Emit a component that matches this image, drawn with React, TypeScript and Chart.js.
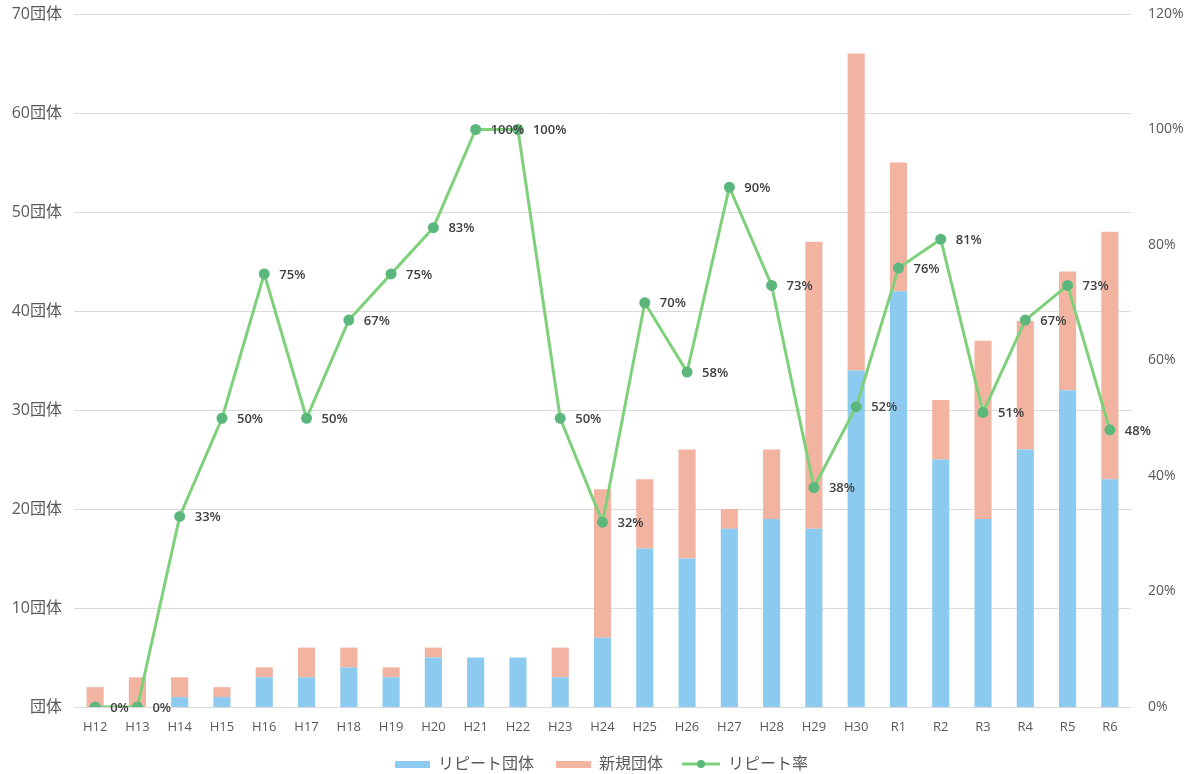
import React, { useEffect, useRef } from "react";
import { Chart, registerables } from "chart.js";

Chart.register(...registerables);

const categories = ["H12","H13","H14","H15","H16","H17","H18","H19","H20","H21","H22","H23","H24","H25","H26","H27","H28","H29","H30","R1","R2","R3","R4","R5","R6"];
const repeatGroups = [0,0,1,1,3,3,4,3,5,5,5,3,7,16,15,18,19,18,34,42,25,19,26,32,23];
const newGroups = [2,3,2,1,1,3,2,1,1,0,0,3,15,7,11,2,7,29,32,13,6,18,13,12,25];
const repeatRate = [0,0,33,50,75,50,67,75,83,100,100,50,32,70,58,90,73,38,52,76,81,51,67,73,48];
const leftTicks = [0,10,20,30,40,50,60,70];
const rightTicks = [0,20,40,60,80,100,120];

const FONT = '"Open Sans", "Noto Sans CJK JP", sans-serif';
const BLUE = "#8dcaf0";
const SALMON = "#f2b3a1";
const GREEN = "#7fd07a";
const GREEN_DOT = "#5bb77c";
const TEXT = "#595959";

const ICON_W = 55;

function makeBox(color: string) {
  const c = document.createElement("canvas");
  c.width = ICON_W; c.height = 10;
  const ctx = c.getContext("2d")!;
  ctx.fillStyle = color;
  ctx.fillRect(ICON_W - 35, 2, 35, 7);
  return c;
}
function makeLineIcon() {
  const c = document.createElement("canvas");
  c.width = ICON_W; c.height = 10;
  const ctx = c.getContext("2d")!;
  const x0 = ICON_W - 38;
  ctx.strokeStyle = GREEN;
  ctx.lineWidth = 3;
  ctx.beginPath(); ctx.moveTo(x0, 5); ctx.lineTo(ICON_W, 5); ctx.stroke();
  ctx.fillStyle = GREEN_DOT;
  ctx.beginPath(); ctx.arc(x0 + 19, 5, 4, 0, Math.PI * 2); ctx.fill();
  return c;
}

const gridPlugin = {
  id: "customGrid",
  afterLayout(chart: any) {
    const lg = chart.legend;
    if (lg) {
      lg.left -= 6; lg.right -= 6;
      lg.top += 8; lg.bottom += 8;
    }
  },
  beforeDatasetsDraw(chart: any) {
    const { ctx, chartArea, scales } = chart;
    ctx.save();
    ctx.strokeStyle = "#dadada";
    ctx.lineWidth = 1;
    leftTicks.forEach((v) => {
      const y = Math.round(scales.y.getPixelForValue(v)) + 0.5;
      ctx.beginPath();
      ctx.moveTo(chartArea.left, y);
      ctx.lineTo(chartArea.right, y);
      ctx.stroke();
    });
    ctx.restore();
  },
};

const labelPlugin = {
  id: "rateLabels",
  afterDatasetsDraw(chart: any) {
    const { ctx } = chart;
    const meta = chart.getDatasetMeta(2);
    ctx.save();
    ctx.font = `600 13px ${FONT}`;
    ctx.fillStyle = "#404040";
    ctx.textAlign = "left";
    ctx.textBaseline = "middle";
    meta.data.forEach((pt: any, i: number) => {
      ctx.fillText(`${repeatRate[i]}%`, pt.x + 15, pt.y + 1);
    });
    ctx.restore();
  },
};

export default function App() {
  const ref = useRef<HTMLCanvasElement>(null);
  useEffect(() => {
    if (!ref.current) return;
    const icons = [makeBox(BLUE), makeBox(SALMON), makeLineIcon()];
    const chart = new Chart(ref.current, {
      type: "bar",
      data: {
        labels: categories,
        datasets: [
          { type: "bar", label: "リピート団体", data: repeatGroups, backgroundColor: BLUE, yAxisID: "y", stack: "s", order: 2, barPercentage: 0.9, categoryPercentage: 0.45 },
          { type: "bar", label: "新規団体", data: newGroups, backgroundColor: SALMON, yAxisID: "y", stack: "s", order: 2, barPercentage: 0.9, categoryPercentage: 0.45 },
          { type: "line", label: "リピート率", data: repeatRate, borderColor: GREEN, backgroundColor: GREEN_DOT, borderWidth: 3, pointRadius: 4, pointBackgroundColor: GREEN_DOT, pointBorderColor: GREEN_DOT, yAxisID: "y1", order: 0, tension: 0 } as any,
        ],
      },
      options: {
        animation: false,
        responsive: false,
        layout: { padding: { top: 14, left: 0, right: 0, bottom: 0 } },
        plugins: {
          tooltip: { enabled: false },
          legend: {
            position: "bottom",
            labels: {
              usePointStyle: true,
              pointStyleWidth: ICON_W,
              boxHeight: 10,
              padding: 2,
              color: TEXT,
              font: { family: FONT, size: 16 },
              generateLabels: (ch: any) =>
                ch.data.datasets.map((d: any, i: number) => ({
                  text: d.label,
                  pointStyle: icons[i],
                  fillStyle: "transparent",
                  strokeStyle: "transparent",
                  lineWidth: 0,
                  fontColor: TEXT,
                  datasetIndex: i,
                  hidden: false,
                })),
            },
          },
        },
        scales: {
          x: {
            stacked: true,
            grid: { display: false, drawTicks: false },
            border: { display: false },
            ticks: { color: TEXT, font: { family: FONT, size: 13 }, padding: 12, autoSkip: false, maxRotation: 0 },
            afterFit: (s: any) => { s.height = 39; },
          },
          y: {
            stacked: true,
            position: "left",
            min: 0,
            max: 70,
            grid: { display: false, drawTicks: false },
            border: { display: false },
            afterBuildTicks: (s: any) => { s.ticks = leftTicks.map((v) => ({ value: v })); },
            ticks: {
              color: TEXT,
              font: { family: FONT, size: 16 },
              padding: 12,
              callback: (v: any) => (Number(v) === 0 ? "団体" : `${v}団体`),
            },
            afterFit: (s: any) => { s.width = 74; s.paddingTop = 0; s.paddingBottom = 0; },
          },
          y1: {
            position: "right",
            min: 0,
            max: 120,
            grid: { display: false, drawTicks: false },
            border: { display: false },
            afterBuildTicks: (s: any) => { s.ticks = rightTicks.map((v) => ({ value: v })); },
            ticks: {
              color: TEXT,
              font: { family: FONT, size: 14 },
              padding: 17,
              callback: (v: any) => `${v}%`,
            },
            afterFit: (s: any) => { s.width = 64; s.paddingTop = 0; s.paddingBottom = 0; },
          },
        },
      },
      plugins: [gridPlugin, labelPlugin],
    });
    return () => chart.destroy();
  }, []);
  return (
    <div style={{ position: "absolute", left: 0, top: 0, width: 1195, height: 774, background: "#fff" }}>
      <canvas ref={ref} width={1195} height={774} style={{ display: "block" }} />
    </div>
  );
}
